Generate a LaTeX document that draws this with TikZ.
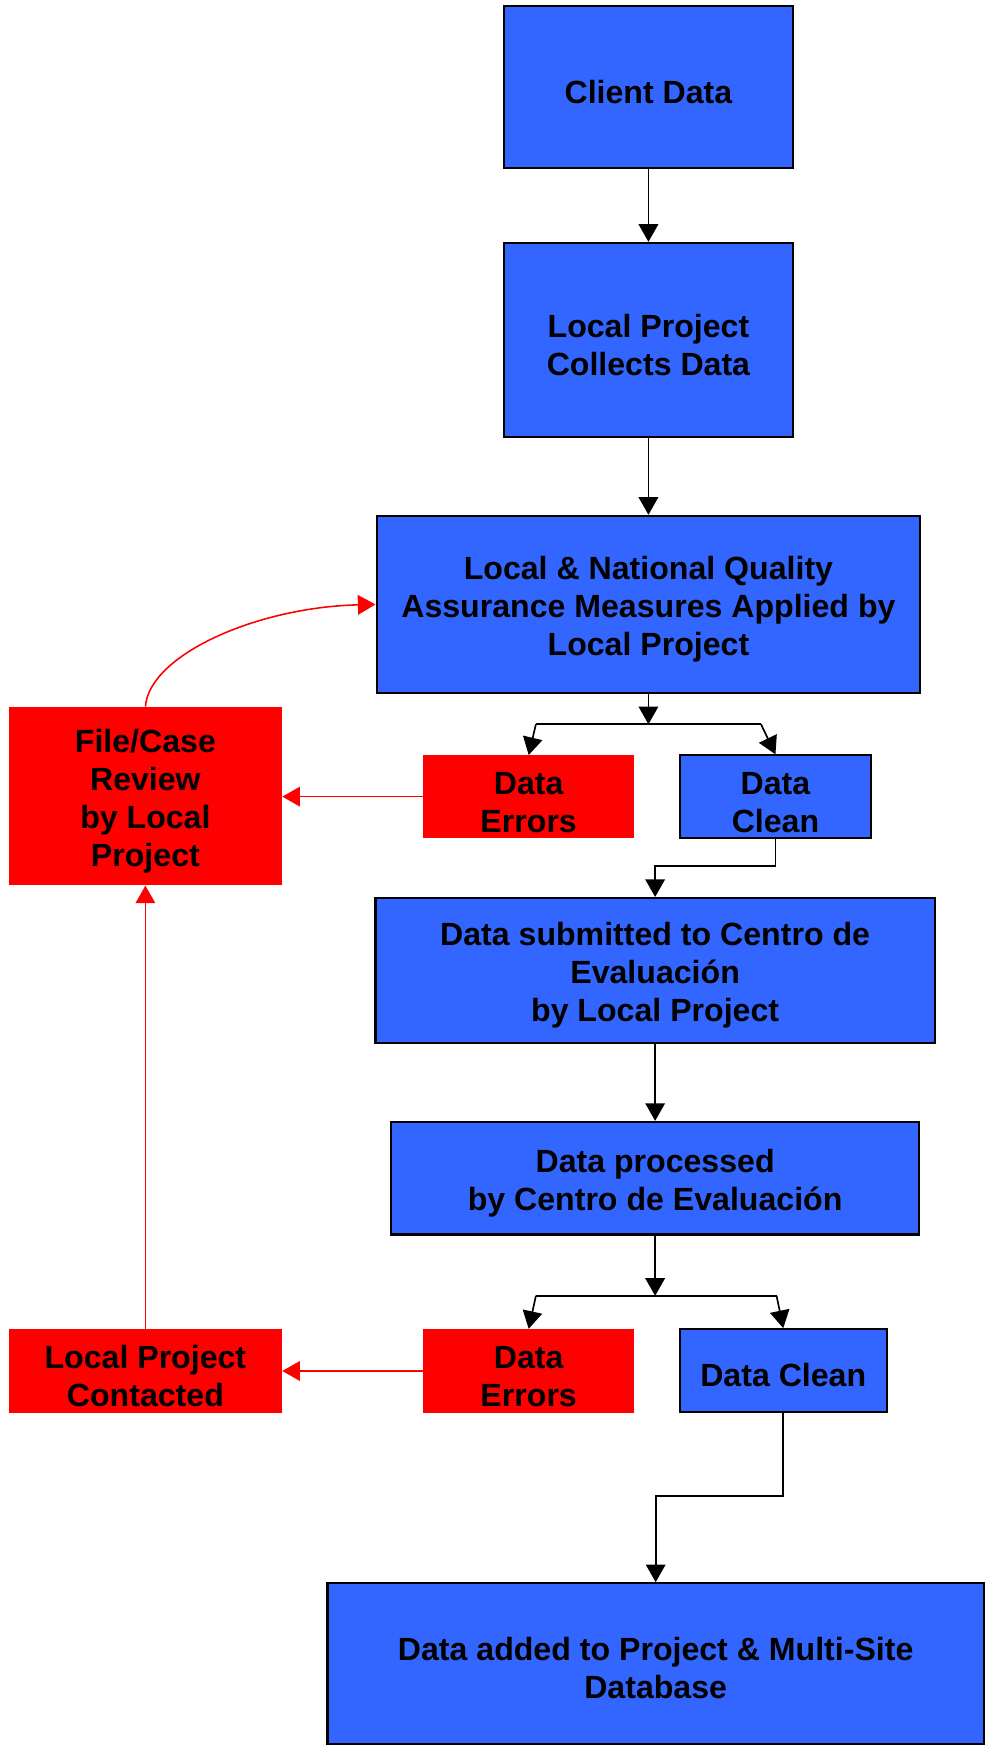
\documentclass[tikz,border=0pt]{standalone}
\usepackage{fontspec}
\setmainfont{Liberation Sans}
\usetikzlibrary{arrows.meta}
\definecolor{boxblue}{RGB}{51,102,255}
\definecolor{boxred}{RGB}{255,0,0}
\newcommand{\topgap}{\rule{0pt}{17pt}}
\begin{document}
\begin{tikzpicture}[x=0.02cm, y=-0.02cm,
  sz/.style 2 args={minimum width=#1*0.02cm, minimum height=#2*0.02cm},
  txt/.style={inner sep=0pt, align=center, font=\fontsize{16.4}{19.4}\selectfont\bfseries},
  blu/.style={rectangle, draw=black, line width=1.1pt, fill=boxblue, txt},
  rd/.style={rectangle, fill=boxred, txt},
  arr/.style={line width=0.85pt, -{Triangle[length=9pt,width=10pt]}},
  redarr/.style={boxred, line width=0.8pt, -{Triangle[length=9pt,width=10pt]}}]
\useasboundingbox (0,0) rectangle (884,1568);
\node[blu, sz={260}{145}] (client) at (582,78){\topgap Client Data};
\node[blu, sz={260}{174}] (collect) at (582,305){\topgap Local Project\\Collects Data};
\node[blu, sz={488}{159}] (qa) at (582,542.5){\topgap Local \& National Quality\\Assurance Measures Applied by\\Local Project};
\node[rd, sz={245}{160}] (review) at (130.5,714.5){\topgap File/Case\\Review\\by Local\\Project};
\node[rd, sz={189}{74}] (err1) at (474.5,715){\topgap Data\\Errors};
\node[blu, sz={172}{74}] (clean1) at (696,715){\topgap Data\\Clean};
\node[blu, sz={502}{130}] (submit) at (588,871){\topgap Data submitted to Centro de\\Evaluación\\by Local Project};
\node[blu, sz={474}{101}] (proc) at (588,1057.5){\topgap Data processed\\by Centro de Evaluación};
\node[rd, sz={245}{75}] (contact) at (130.5,1230.5){\topgap Local Project\\Contacted};
\node[rd, sz={189}{75}] (err2) at (474.5,1230.5){\topgap Data\\Errors};
\node[blu, sz={186}{74}] (clean2) at (703,1230){\topgap Data Clean};
\node[blu, sz={589}{144}] (added) at (588.5,1493){\topgap Data added to Project \& Multi-Site\\Database};
\coordinate (j1) at (582,650);
\coordinate (j1l) at (481,650);
\coordinate (j1r) at (683,650);
\coordinate (j2) at (588,1163);
\coordinate (j2l) at (481,1163);
\coordinate (j2r) at (697,1163);
\draw[arr](client) -- (collect);
\draw[arr](collect) -- (qa);
\draw[arr](qa.south) -- (j1);
\draw[line width=0.85pt](j1l) -- (j1r);
\draw[arr](j1l) -- (err1.north);
\draw[arr](j1r) -- (clean1.north);
\draw[arr](clean1.south) -- ++(0,24) -| (submit.north);
\draw[redarr](err1.west) -- (err1.west -| review.east);
\draw[redarr](review.north) .. controls (134,588) and (230,545) .. (qa.west);
\draw[arr](submit) -- (proc);
\draw[arr](proc.south) -- (j2);
\draw[line width=0.85pt](j2l) -- (j2r);
\draw[arr](j2l) -- (err2.north);
\draw[arr](j2r) -- (clean2.north);
\draw[redarr](err2) -- (contact);
\draw[redarr](contact) -- (review);
\draw[arr](clean2.south) -- ++(0,75) -| (added.north);

\end{tikzpicture}
\end{document}
